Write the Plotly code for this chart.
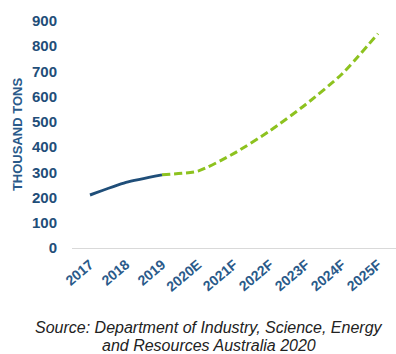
import plotly.graph_objects as go

years = ["2017", "2018", "2019", "2020E", "2021F", "2022F", "2023F", "2024F", "2025F"]
actual_years = ["2017", "2018", "2019"]
actual_values = [210, 260, 290]
forecast_years = ["2019", "2020E", "2021F", "2022F", "2023F", "2024F", "2025F"]
forecast_values = [290, 305, 375, 465, 570, 690, 850]
y_ticks = [0, 100, 200, 300, 400, 500, 600, 700, 800, 900]
source_lines = ["Source: Department of Industry, Science, Energy", "and Resources Australia 2020"]

blue = "#1F4E79"
green = "#8DC21F"

W, H = 396, 354
L, R, T, B = 72, 0, 21, 106
plot_h = H - T - B


def paper_y(py):
    return (H - B - py) / plot_h


fig = go.Figure()
fig.add_trace(go.Scatter(x=forecast_years, y=forecast_values, mode="lines",
                         line=dict(color=green, width=3, dash="8px,4px", shape="spline", smoothing=0.6),
                         hoverinfo="skip"))
fig.add_trace(go.Scatter(x=actual_years, y=actual_values, mode="lines",
                         line=dict(color=blue, width=3, shape="spline", smoothing=0.6),
                         hoverinfo="skip"))

annots = []
for line_text, py in zip(source_lines, [327, 345]):
    annots.append(dict(text="<i>" + line_text + "</i>", xref="paper", yref="paper",
                       x=(209 - L) / (W - L - R), y=paper_y(py), xanchor="center", yanchor="middle",
                       showarrow=False, font=dict(size=16, color="#222222", family="Arial, sans-serif")))

fig.update_layout(
    width=W, height=H,
    margin=dict(l=L, r=R, t=T, b=B),
    paper_bgcolor="white", plot_bgcolor="white",
    showlegend=False,
    font=dict(family="Arial, Liberation Sans, sans-serif"),
    xaxis=dict(type="category", categoryorder="array", categoryarray=years,
               tickangle=-40, showgrid=False, showline=True, linecolor="#D9D9D9", linewidth=1,
               ticks="", ticklabelstandoff=2,
               tickfont=dict(size=14, color="#2A5A8A", family="Arial, sans-serif", weight="bold"),
               range=[-0.5, 8.5]),
    yaxis=dict(range=[0, 900], tickvals=y_ticks, showgrid=False, zeroline=False, showline=False,
               ticks="", ticklabelstandoff=14,
               tickfont=dict(size=15, color=blue, family="Arial, sans-serif", weight="bold"),
               title=dict(text="<b>THOUSAND TONS</b>", standoff=6,
                          font=dict(size=13, color="#2A5A8A", family="Arial, sans-serif"))),
    annotations=annots,
)

fig.write_html("out.html")
